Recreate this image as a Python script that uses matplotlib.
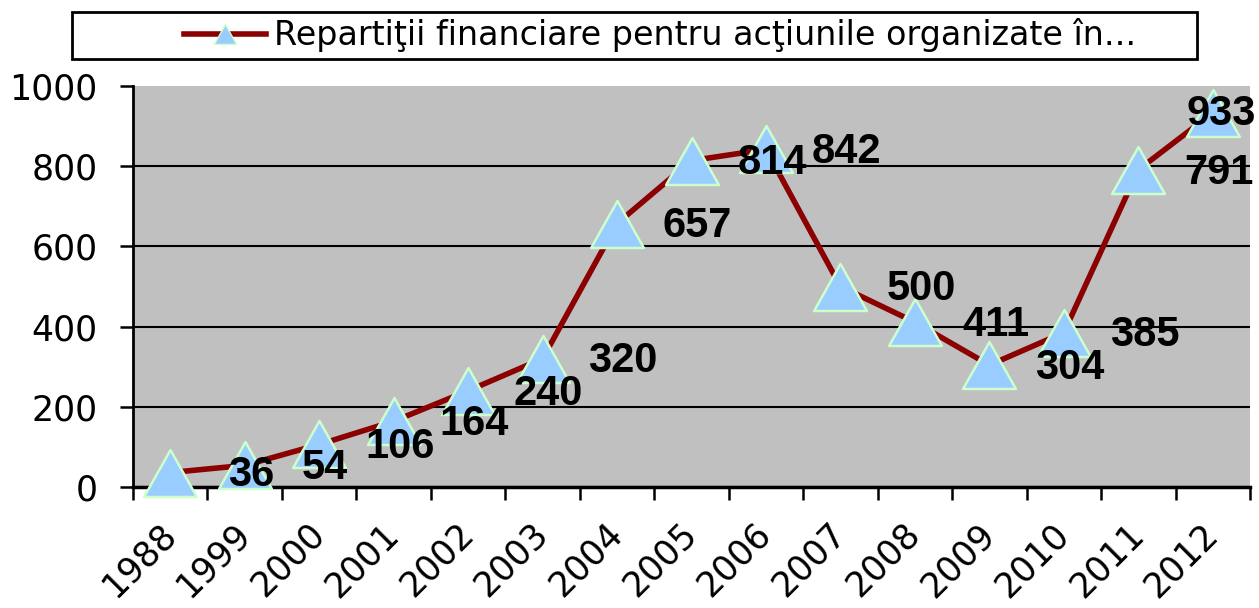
import numpy as np
import matplotlib
matplotlib.use("Agg")
import matplotlib.pyplot as plt
from matplotlib.path import Path
from matplotlib.lines import Line2D
from matplotlib.patches import Rectangle

years = ["1988", "1999", "2000", "2001", "2002", "2003", "2004", "2005",
         "2006", "2007", "2008", "2009", "2010", "2011", "2012"]
values = [36, 54, 106, 164, 240, 320, 657, 814, 842, 500, 411, 304, 385, 791, 933]
series_name = "Repartiţii financiare pentru acţiunile organizate în..."
y_ticks = [0, 200, 400, 600, 800, 1000]

plt.rcParams['font.family'] = ['DejaVu Sans']

W, H = 1259, 608
fig = plt.figure(figsize=(W / 100, H / 100), dpi=100)
left, right, top, bottom = 133, 1250, 86, 487
ax = fig.add_axes([left / W, 1 - bottom / H, (right - left) / W, (bottom - top) / H])
ax.set_facecolor('#C0C0C0')

tri = Path([(0, 0.89), (-1, -0.89), (1, -0.89), (0, 0.89)],
           [Path.MOVETO, Path.LINETO, Path.LINETO, Path.CLOSEPOLY])

x = np.arange(len(years))
ax.plot(x, values, color='#8B0000', lw=4, marker=tri, markersize=38,
        markerfacecolor='#99CCFF', markeredgecolor='#CCFFCC', markeredgewidth=1.8,
        zorder=3, clip_on=False)

offsets = [(58, -2)] * (len(values) - 1) + [(6, -1)]
for xi, v, off in zip(x, values, offsets):
    ax.annotate(str(v), (xi, v), xytext=off, textcoords='offset points',
                ha='center', va='center', fontsize=30, fontweight='bold',
                family=['Liberation Sans', 'DejaVu Sans'],
                color='black', zorder=5, annotation_clip=False)

ax.set_xlim(-0.5, len(years) - 0.5)
ax.set_ylim(0, 1000)
ax.set_yticks(y_ticks)
ax.set_yticklabels([str(t) for t in y_ticks], fontsize=25)
ax.tick_params(axis='y', length=9.5, width=1.8, pad=16, color='black')

ax.set_xticks(x)
ax.set_xticklabels(years, fontsize=25, rotation=45, ha='right', va='center',
                   rotation_mode='anchor')
ax.tick_params(axis='x', which='major', length=0, pad=30)
ax.set_xticks(np.arange(len(years) + 1) - 0.5, minor=True)
ax.tick_params(axis='x', which='minor', length=9.5, width=1.8, color='black')

ax.grid(axis='y', color='black', lw=1.5, zorder=1)
ax.set_axisbelow(True)
for sp in ['top', 'right']:
    ax.spines[sp].set_visible(False)
ax.spines['left'].set_linewidth(2)
ax.spines['bottom'].set_linewidth(2.5)

fig.canvas.draw()
ax.yaxis.get_gridlines()[-1].set_visible(False)

# legend box
fig.patches.append(Rectangle((72 / W, 1 - 59 / H), (1197 - 72) / W, (59 - 12) / H,
                             transform=fig.transFigure, fill=False,
                             edgecolor='black', lw=2))
handle = Line2D([], [], color='#8B0000', lw=4, marker=tri, markersize=16,
                markerfacecolor='#99CCFF', markeredgecolor='#CCFFCC',
                markeredgewidth=1)
fig.legend([handle], [series_name], loc='center',
           bbox_to_anchor=(660 / W, 1 - 35.5 / H), frameon=False,
           fontsize=24, handlelength=2.45, handletextpad=0.25,
           borderpad=0, borderaxespad=0)

fig.savefig('out.png', dpi=100)
